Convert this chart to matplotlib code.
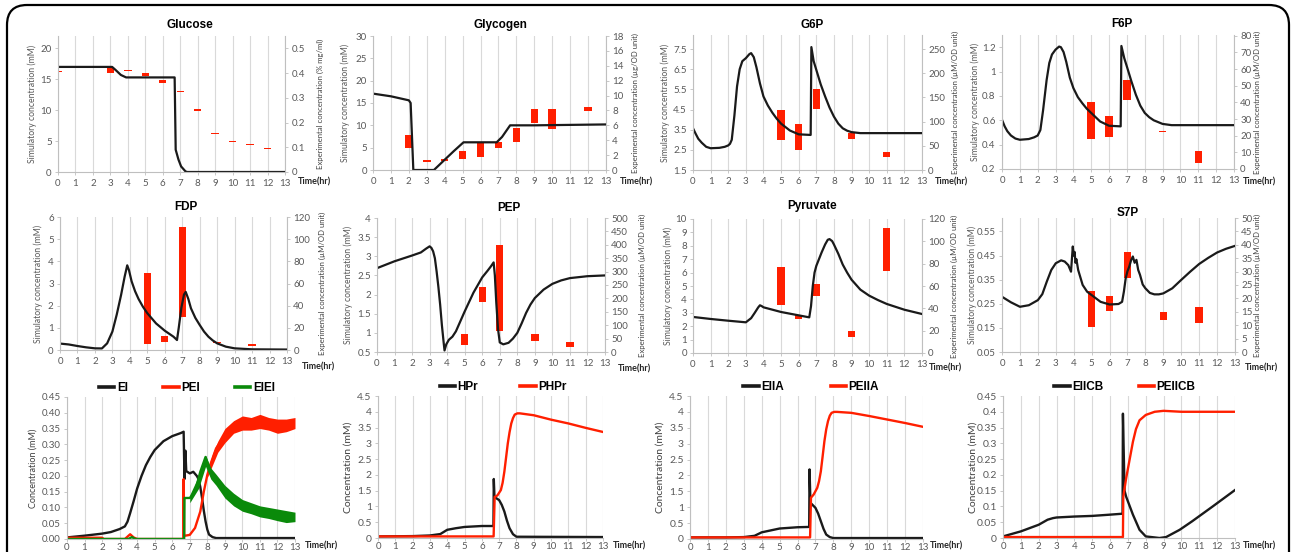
import numpy as np
import matplotlib.pyplot as plt
from matplotlib.patches import FancyBboxPatch
from matplotlib.transforms import IdentityTransform

W, H = 1295, 552
RED = "#ff1f00"
BLK = "#1a1a1a"
GRN = "#0a8a0a"
GRID = "#d9d9d9"
AXIS = "#bfbfbf"
TICK = "#595959"

hours = list(range(14))

# ---------------- simulated (line) + experimental (bar) data ----------------
glc_t = [0, 3.1, 3.3, 3.6, 3.9, 6.68, 6.74, 6.9, 7.05, 7.3, 7.4, 13]
glc_v = [17.0, 17.0, 16.5, 15.7, 15.3, 15.3, 3.6, 2.0, 0.9, 0.1, 0.0, 0.0]
glc_et = [0, 3, 4, 5, 6, 7, 8, 9, 10, 11, 12]
glc_lo = [0.404, 0.401, 0.408, 0.388, 0.361, 0.324, 0.247, 0.152, 0.121, 0.108, 0.094]
glc_hi = [0.410, 0.419, 0.414, 0.401, 0.374, 0.329, 0.253, 0.158, 0.126, 0.112, 0.098]

gly_t = [0, 1, 2, 2.1, 2.17, 2.25, 3.4, 4.0, 4.5, 5.05, 6.9, 7.2, 7.65, 9, 13]
gly_v = [17.1, 16.5, 15.6, 15.0, 8.0, 0.0, 0.0, 2.3, 4.2, 6.2, 6.2, 7.4, 10.0, 10.0, 10.2]
gly_et = [2, 3, 4, 5, 6, 7, 8, 9, 10, 12]
gly_lo = [3.0, 1.1, 1.15, 1.5, 1.7, 3.0, 3.8, 6.3, 5.5, 7.9]
gly_hi = [4.7, 1.4, 1.5, 2.55, 3.8, 3.7, 5.6, 8.15, 8.2, 8.5]

g6p_t = [0, 0.15, 0.3, 0.5, 0.75, 1, 1.5, 1.8, 2, 2.1, 2.2, 2.35, 2.5, 2.65, 2.8, 3.0, 3.2,
         3.3, 3.45, 3.6, 3.8, 4.0, 4.25, 4.5, 4.75, 5, 5.5, 6, 6.68, 6.72, 6.85, 7, 7.25,
         7.5, 7.75, 8, 8.25, 8.5, 8.75, 9, 9.5, 13]
g6p_v = [3.57, 3.3, 3.05, 2.85, 2.65, 2.58, 2.6, 2.65, 2.72, 2.8, 3.0, 4.2, 5.65, 6.5, 6.9,
         7.05, 7.25, 7.3, 7.1, 6.6, 5.8, 5.15, 4.7, 4.35, 4.05, 3.8, 3.46, 3.27, 3.24, 7.6,
         6.9, 6.47, 5.75, 5.15, 4.6, 4.15, 3.8, 3.57, 3.45, 3.38, 3.33, 3.33]
g6p_et = [5, 6, 7, 9, 11]
g6p_lo = [62.5, 42, 126, 65, 26]
g6p_hi = [125, 95, 168, 76, 37.5]

f6p_t = [0, 0.15, 0.3, 0.5, 0.75, 1, 1.5, 1.8, 2, 2.15, 2.3, 2.5, 2.65, 2.8, 3, 3.2, 3.3,
         3.45, 3.6, 3.8, 4, 4.25, 4.5, 4.75, 5, 5.5, 6, 6.65, 6.69, 6.85, 7, 7.25, 7.5,
         7.75, 8, 8.25, 8.5, 9, 9.5, 13]
f6p_v = [0.604, 0.55, 0.51, 0.475, 0.45, 0.44, 0.446, 0.46, 0.475, 0.52, 0.68, 0.93, 1.07,
         1.14, 1.18, 1.205, 1.2, 1.16, 1.08, 0.95, 0.864, 0.79, 0.74, 0.695, 0.66, 0.59,
         0.555, 0.55, 1.21, 1.11, 1.04, 0.92, 0.81, 0.72, 0.66, 0.625, 0.6, 0.57, 0.56, 0.56]
f6p_et = [5, 6, 7, 9, 11]
f6p_lo = [18.2, 19, 41.6, 22.0, 3.6]
f6p_hi = [40, 32, 53.6, 22.8, 11]

fdp_t = [0, 0.5, 1, 1.5, 2, 2.4, 2.7, 3, 3.25, 3.5, 3.7, 3.85, 3.95, 4.1, 4.3, 4.5, 4.75,
         5, 5.5, 6, 6.5, 6.7, 6.8, 6.95, 7.1, 7.2, 7.35, 7.5, 7.75, 8, 8.25, 8.5, 8.75, 9,
         9.5, 10, 11, 13]
fdp_v = [0.29, 0.25, 0.18, 0.12, 0.075, 0.07, 0.3, 0.83, 1.6, 2.49, 3.3, 3.82, 3.6, 3.1,
         2.65, 2.3, 1.95, 1.66, 1.2, 0.87, 0.6, 0.45, 1.0, 1.9, 2.5, 2.62, 2.3, 1.88, 1.45,
         1.13, 0.83, 0.6, 0.43, 0.3, 0.15, 0.075, 0.03, 0.02]
fdp_et = [5, 6, 7, 9, 11]
fdp_lo = [5.1, 7, 29.8, 6.0, 4.0]
fdp_hi = [69.3, 13, 110.7, 7.0, 5.0]

pep_t = [0, 1, 2, 2.5, 2.8, 3, 3.1, 3.2, 3.3, 3.4, 3.5, 3.6, 3.7, 3.8, 3.85, 3.95, 4.1,
         4.3, 4.5, 4.75, 5, 5.5, 6, 6.3, 6.5, 6.65, 6.72, 6.8, 6.9, 7, 7.2, 7.5, 7.75, 8,
         8.25, 8.5, 8.75, 9, 9.5, 10, 10.5, 11, 12, 13]
pep_v = [2.69, 2.87, 3.02, 3.1, 3.2, 3.26, 3.22, 3.13, 2.95, 2.6, 2.2, 1.74, 1.2, 0.75,
         0.54, 0.7, 0.82, 0.9, 1.04, 1.3, 1.56, 2.05, 2.45, 2.62, 2.74, 2.84, 2.5, 1.8,
         1.1, 0.75, 0.7, 0.74, 0.85, 1.0, 1.25, 1.52, 1.74, 1.91, 2.13, 2.28, 2.37, 2.43,
         2.48, 2.5]
pep_et = [5, 6, 7, 9, 11]
pep_lo = [27, 187, 77, 42, 19]
pep_hi = [67, 241, 400, 68, 37]

pyr_t = [0, 1, 2, 3, 3.3, 3.5, 3.7, 3.8, 3.9, 4, 5, 6, 6.6, 6.7, 6.8, 6.9, 7, 7.15, 7.3,
         7.5, 7.65, 7.75, 7.9, 8, 8.25, 8.5, 8.75, 9, 9.5, 10, 10.5, 11, 12, 13]
pyr_v = [2.69, 2.54, 2.41, 2.29, 2.6, 2.99, 3.4, 3.56, 3.5, 3.41, 3.06, 2.81, 2.66, 3.5,
         5.0, 6.0, 6.5, 7.0, 7.5, 8.1, 8.45, 8.5, 8.35, 8.1, 7.4, 6.6, 6.0, 5.47, 4.73,
         4.28, 3.95, 3.66, 3.23, 2.91]
pyr_et = [5, 6, 7, 9, 11]
pyr_lo = [42.7, 30.7, 50.7, 14, 73.7]
pyr_hi = [76.7, 34.3, 61.8, 19.4, 112]

s7p_t = [0, 0.5, 1, 1.5, 2, 2.25, 2.5, 2.75, 3, 3.3, 3.5, 3.7, 3.85, 3.95, 4.0, 4.05, 4.1,
         4.15, 4.25, 4.5, 4.75, 5, 5.5, 6, 6.5, 6.7, 6.8, 6.9, 7.0, 7.1, 7.2, 7.3, 7.4,
         7.5, 7.6, 7.7, 7.85, 8, 8.25, 8.5, 8.75, 9, 9.5, 10, 10.5, 11, 11.5, 12, 12.5, 13]
s7p_v = [0.279, 0.256, 0.2375, 0.244, 0.265, 0.29, 0.342, 0.39, 0.418, 0.43, 0.425, 0.41,
         0.383, 0.4875, 0.45, 0.465, 0.42, 0.435, 0.39, 0.328, 0.3, 0.286, 0.258, 0.247,
         0.249, 0.258, 0.3, 0.355, 0.385, 0.404, 0.43, 0.446, 0.42, 0.432, 0.39, 0.37,
         0.33, 0.314, 0.295, 0.289, 0.289, 0.293, 0.314, 0.349, 0.383, 0.415, 0.44, 0.4625,
         0.478, 0.49]
s7p_et = [5, 6, 7, 9, 11]
s7p_lo = [9.4, 15.25, 27.75, 12.1, 11]
s7p_hi = [22.75, 20.9, 37.5, 15, 16.9]

# ---------------- PTS protein species ----------------
ei_t = [0, 1, 2, 2.5, 3, 3.3, 3.45, 3.6, 3.8, 4, 4.25, 4.5, 4.75, 5, 5.5, 6, 6.5, 6.65,
        6.7, 6.75, 6.8, 7, 7.2, 7.4, 7.5, 7.6, 7.7, 7.8, 7.9, 8, 8.1, 8.3, 8.5, 13]
ei_v = [0.005, 0.0105, 0.017, 0.022, 0.0315, 0.04, 0.055, 0.082, 0.12, 0.16, 0.2, 0.234,
        0.26, 0.282, 0.31, 0.326, 0.336, 0.34, 0.19, 0.28, 0.215, 0.208, 0.213, 0.2, 0.19,
        0.165, 0.13, 0.09, 0.056, 0.03, 0.014, 0.006, 0.003, 0.003]
pei_t = [0, 2, 2.1, 3.3, 3.6, 3.8, 4, 6.63, 6.65, 6.68, 7, 7.3, 7.6, 7.8, 8, 8.2, 8.5, 9,
         9.5, 10, 11, 12, 13]
pei_v = [0.004, 0.004, 0.0, 0.0, 0.015, 0.005, 0.0, 0.0, 0.19, 0.01, 0.013, 0.035, 0.087,
         0.15, 0.203, 0.24, 0.287, 0.33, 0.355, 0.365, 0.37, 0.36, 0.365]
pei_bt = [8.0, 8.3, 8.6, 9, 9.5, 10, 10.5, 11, 11.5, 12, 12.5, 13]
pei_lo = [0.195, 0.235, 0.275, 0.305, 0.335, 0.345, 0.345, 0.35, 0.345, 0.335, 0.34, 0.35]
pei_hi = [0.215, 0.27, 0.31, 0.35, 0.375, 0.39, 0.385, 0.395, 0.385, 0.38, 0.38, 0.385]
eiei_t = [0, 3.5, 3.7, 3.9, 6.68, 6.7, 7, 7.3, 7.6, 7.9, 8.2, 8.5, 9, 9.5, 10, 11, 12, 13]
eiei_v = [0, 0, 0.006, 0, 0, 0.13, 0.13, 0.15, 0.213, 0.26, 0.21, 0.19, 0.15, 0.124, 0.108,
          0.085, 0.073, 0.068]
eiei_bt = [7, 7.5, 7.9, 8.2, 8.5, 9, 9.5, 10, 10.5, 11, 11.5, 12, 12.5, 13]
eiei_lo = [0.115, 0.16, 0.23, 0.19, 0.17, 0.13, 0.105, 0.088, 0.08, 0.07, 0.065, 0.058, 0.052, 0.055]
eiei_hi = [0.14, 0.2, 0.265, 0.225, 0.205, 0.17, 0.145, 0.125, 0.115, 0.105, 0.1, 0.095, 0.09, 0.085]

hpr_t = [0, 2, 3, 3.6, 4, 4.5, 5, 6, 6.67, 6.69, 6.73, 7, 7.15, 7.3, 7.45, 7.6, 7.8, 8, 13]
hpr_v = [0.05, 0.06, 0.08, 0.125, 0.26, 0.31, 0.35, 0.38, 0.38, 1.87, 1.3, 1.2, 1.05, 0.84,
         0.55, 0.31, 0.12, 0.04, 0.03]
phpr_t = [0, 6.68, 6.74, 6.9, 7.1, 7.2, 7.3, 7.4, 7.5, 7.6, 7.7, 7.8, 7.9, 8.05, 8.2, 9, 10,
          11, 12, 13]
phpr_v = [0.05, 0.05, 1.3, 1.35, 1.52, 1.75, 2.1, 2.55, 3.0, 3.35, 3.63, 3.8, 3.91, 3.95,
          3.95, 3.89, 3.75, 3.63, 3.49, 3.36]

eiia_t = [0, 2, 3, 3.6, 4, 5, 6, 6.65, 6.67, 6.72, 7, 7.15, 7.3, 7.45, 7.6, 7.8, 8, 13]
eiia_v = [0.05, 0.05, 0.06, 0.1, 0.21, 0.33, 0.37, 0.38, 2.19, 1.14, 0.98, 0.8, 0.56, 0.32,
          0.14, 0.06, 0.03, 0.03]
peiia_t = [0, 6.7, 6.75, 6.9, 7.1, 7.2, 7.3, 7.4, 7.5, 7.6, 7.7, 7.8, 7.9, 8.05, 8.2, 9, 10,
           11, 12, 13]
peiia_v = [0.05, 0.05, 1.3, 1.4, 1.61, 1.82, 2.13, 2.6, 3.08, 3.45, 3.71, 3.88, 3.97, 4.0,
           4.0, 3.97, 3.87, 3.76, 3.65, 3.53]

eiicb_t = [0, 1, 2, 2.5, 2.8, 3, 4, 5, 6, 6.7, 6.72, 6.81, 6.9, 7.28, 7.65, 8.0, 8.77, 9.14,
           9.9, 10.6, 11.75, 13]
eiicb_v = [0.005, 0.021, 0.042, 0.058, 0.063, 0.065, 0.068, 0.07, 0.074, 0.077, 0.394, 0.15,
           0.131, 0.074, 0.026, 0.005, 0.0, 0.003, 0.026, 0.053, 0.1, 0.152]
peiicb_t = [0, 6.72, 6.74, 6.9, 7.1, 7.28, 7.45, 7.65, 8.0, 8.5, 9, 10, 13]
peiicb_v = [0.003, 0.003, 0.131, 0.189, 0.25, 0.305, 0.345, 0.373, 0.39, 0.4, 0.403, 0.4, 0.4]

# ---------------- figure ----------------
plt.rcParams["font.family"] = ["Lato", "DejaVu Sans"]
fig = plt.figure(figsize=(W / 100, H / 100), dpi=100)
fig.add_artist(FancyBboxPatch((7, -40), 1282, 587, boxstyle="round,pad=0,rounding_size=20",
                              transform=IdentityTransform(), fill=False, ec="black", lw=1.6))


def add_box(x0, y0, x1, y1):
    return fig.add_axes([x0 / W, 1 - y1 / H, (x1 - x0) / W, (y1 - y0) / H])


def ftext(x, y, s, **kw):
    fig.text(x / W, 1 - y / H, s, **kw)


def base_style(ax, ylim, yticks, ylabels, ysize=7, xpad=3):
    ax.set_xlim(0, 13)
    ax.set_ylim(*ylim)
    ax.set_xticks(hours)
    ax.set_xticklabels([str(h) for h in hours])
    ax.set_yticks(yticks)
    ax.set_yticklabels(ylabels)
    for s in ("top", "right"):
        ax.spines[s].set_visible(False)
    for s in ("left", "bottom"):
        ax.spines[s].set_color(AXIS)
        ax.spines[s].set_linewidth(0.8)
    ax.tick_params(axis="x", length=2, width=0.6, color=AXIS, labelsize=7, labelcolor=TICK,
                   pad=xpad)
    ax.tick_params(axis="y", length=2.5, width=0.6, color=AXIS, labelsize=ysize,
                   labelcolor=TICK, pad=2)


def sim_panel(box, title, txy, t, v, et, lo, hi, ylim, yticks, ylabels, rlim, rticks,
              rlabel, lx, rx, time_xy):
    ax = add_box(*box)
    ax2 = ax.twinx()
    ax.set_zorder(ax2.get_zorder() + 1)
    ax.patch.set_visible(False)
    ax2.xaxis.set_visible(True)
    ax2.tick_params(axis="x", bottom=False, top=False, labelbottom=False, labeltop=False)
    ax2.grid(axis="x", color=GRID, lw=0.8)
    ax2.set_axisbelow(True)
    ax2.bar(et, np.subtract(hi, lo), bottom=lo, width=0.42, color=RED, linewidth=0)
    ax.plot(t, v, color=BLK, lw=1.6)
    base_style(ax, ylim, yticks, ylabels)
    ax2.set_ylim(*rlim)
    ax2.set_yticks(rticks)
    ax2.set_yticklabels(["%g" % r for r in rticks])
    for s in ("top", "left", "bottom"):
        ax2.spines[s].set_visible(False)
    ax2.spines["right"].set_color(AXIS)
    ax2.spines["right"].set_linewidth(0.8)
    ax2.tick_params(axis="y", length=2.5, width=0.6, color=AXIS, labelsize=7,
                    labelcolor=TICK, pad=2)
    cy = (box[1] + box[3]) / 2
    ftext(lx, cy, "Simulatory concentration (mM)", rotation=90, ha="center", va="center",
          fontsize=6.2, color=TICK)
    ftext(rx, cy, rlabel, rotation=90, ha="center", va="center", fontsize=5.6, color="#404040")
    ftext(txy[0], txy[1], title, ha="center", va="center", fontsize=8.5, fontweight="bold",
          family="Liberation Sans", color="black")
    ftext(time_xy[0], time_xy[1], "Time(hr)", ha="left", va="center", fontsize=6.5,
          fontweight="bold", color="#262626")
    return ax


def pts_panel(box, series, ylim, yticks, ylabels, lx, ysize, lab_size, leg_cx, colsp, time_xy):
    ax = add_box(*box)
    ax.grid(axis="x", color=GRID, lw=0.8)
    ax.set_axisbelow(True)
    for t, v, c, name in series:
        ax.plot(t, v, color=c, lw=1.7, label=name)
    base_style(ax, ylim, yticks, ylabels, ysize, xpad=1)
    leg = ax.legend(loc="center", bbox_to_anchor=(leg_cx, 1 + 9 / (box[3] - box[1])),
                    ncol=len(series), frameon=False, handlelength=1.3, handletextpad=0.2,
                    columnspacing=colsp, borderaxespad=0,
                    prop={"family": "Liberation Sans", "weight": "bold", "size": 8.5})
    for h in leg.get_lines():
        h.set_linewidth(2.6)
    ftext(lx, (box[1] + box[3]) / 2, "Concentration (mM)", rotation=90, ha="center",
          va="center", fontsize=lab_size, color="#404040")
    ftext(time_xy[0], time_xy[1], "Time(hr)", ha="left", va="center", fontsize=6.5,
          fontweight="bold", color="#262626")
    return ax


um = "Experimental concentration (\u00b5M/OD unit)"

# row 1
sim_panel((58, 36, 285, 172), "Glucose", (190, 25), glc_t, glc_v, glc_et, glc_lo, glc_hi,
          (0, 22), [0, 5, 10, 15, 20], ["0", "5", "10", "15", "20"],
          (0, 0.55), [0, 0.1, 0.2, 0.3, 0.4, 0.5],
          "Experimental concentration (% mg/ml)", 32, 320, (298, 182))
sim_panel((373, 36, 606, 170), "Glycogen", (500, 25), gly_t, gly_v, gly_et, gly_lo, gly_hi,
          (0, 30), [0, 5, 10, 15, 20, 25, 30], ["0", "5", "10", "15", "20", "25", "30"],
          (0, 18), [0, 2, 4, 6, 8, 10, 12, 14, 16, 18],
          "Experimental concentration (\u00b5g/OD unit)", 345, 635, (620, 182))
sim_panel((693, 35, 922, 170), "G6P", (812, 25), g6p_t, g6p_v, g6p_et, g6p_lo, g6p_hi,
          (1.5, 8.2), [1.5, 2.5, 3.5, 4.5, 5.5, 6.5, 7.5],
          ["1.5", "2.5", "3.5", "4.5", "5.5", "6.5", "7.5"],
          (0, 279), [0, 50, 100, 150, 200, 250], um, 665, 955, (935, 182))
sim_panel((1002, 35, 1234, 169), "F6P", (1122, 24), f6p_t, f6p_v, f6p_et, f6p_lo, f6p_hi,
          (0.2, 1.3), [0.2, 0.4, 0.6, 0.8, 1.0, 1.2], ["0.2", "0.4", "0.6", "0.8", "1", "1.2"],
          (0, 80.5), [0, 10, 20, 30, 40, 50, 60, 70, 80], um, 975, 1257, (1243, 182))

# row 2
sim_panel((60, 217, 287, 350), "FDP", (186, 207), fdp_t, fdp_v, fdp_et, fdp_lo, fdp_hi,
          (0, 6), [0, 1, 2, 3, 4, 5, 6], ["0", "1", "2", "3", "4", "5", "6"],
          (0, 120), [0, 20, 40, 60, 80, 100, 120], um, 38, 322, (302, 367))
sim_panel((377, 218, 605, 352), "PEP", (509, 208), pep_t, pep_v, pep_et, pep_lo, pep_hi,
          (0.5, 4), [0.5, 1, 1.5, 2, 2.5, 3, 3.5, 4],
          ["0.5", "1", "1.5", "2", "2.5", "3", "3.5", "4"],
          (0, 500), [0, 50, 100, 150, 200, 250, 300, 350, 400, 450, 500], um, 348, 642,
          (618, 369))
sim_panel((693, 219, 922, 353), "Pyruvate", (812, 206), pyr_t, pyr_v, pyr_et, pyr_lo, pyr_hi,
          (0, 10), list(range(11)), [str(i) for i in range(11)],
          (0, 120), [0, 20, 40, 60, 80, 100, 120], um, 668, 954, (929, 368))
sim_panel((1002, 218, 1235, 352), "S7P", (1128, 213), s7p_t, s7p_v, s7p_et, s7p_lo, s7p_hi,
          (0.05, 0.6056), [0.05, 0.15, 0.25, 0.35, 0.45, 0.55],
          ["0.05", "0.15", "0.25", "0.35", "0.45", "0.55"],
          (0, 50), [0, 5, 10, 15, 20, 25, 30, 35, 40, 45, 50], um, 972, 1257, (1245, 368))

# row 3
ax_ei = pts_panel((67, 397, 295, 539),
                  [(ei_t, ei_v, BLK, "EI"), (pei_t, pei_v, RED, "PEI"),
                   (eiei_t, eiei_v, GRN, "EIEI")],
                  (0, 0.45), [0, 0.05, 0.1, 0.15, 0.2, 0.25, 0.3, 0.35, 0.4, 0.45],
                  ["0.00", "0.05", "0.10", "0.15", "0.20", "0.25", "0.30", "0.35", "0.40",
                   "0.45"],
                  33, 7, 6.5, 0.526, 3.0, (305, 546))
ax_ei.fill_between(pei_bt, pei_lo, pei_hi, color=RED, lw=0, zorder=2.1)
ax_ei.fill_between(eiei_bt, eiei_lo, eiei_hi, color=GRN, lw=0, zorder=2.2)

pts_panel((378, 396, 603, 538), [(hpr_t, hpr_v, BLK, "HPr"), (phpr_t, phpr_v, RED, "PHPr")],
          (0, 4.5), [0, 0.5, 1, 1.5, 2, 2.5, 3, 3.5, 4, 4.5],
          ["0", "0.5", "1", "1.5", "2", "2.5", "3", "3.5", "4", "4.5"],
          348, 7.5, 7.5, 0.556, 3.6, (613, 546))
pts_panel((690, 396, 923, 539), [(eiia_t, eiia_v, BLK, "EIIA"), (peiia_t, peiia_v, RED, "PEIIA")],
          (0, 4.5), [0, 0.5, 1, 1.5, 2, 2.5, 3, 3.5, 4, 4.5],
          ["0", "0.5", "1", "1.5", "2", "2.5", "3", "3.5", "4", "4.5"],
          660, 7.5, 7.5, 0.52, 4.0, (930, 546))
pts_panel((1003, 396, 1235, 538),
          [(eiicb_t, eiicb_v, BLK, "EIICB"), (peiicb_t, peiicb_v, RED, "PEIICB")],
          (0, 0.45), [0, 0.05, 0.1, 0.15, 0.2, 0.25, 0.3, 0.35, 0.4, 0.45],
          ["0", "0.05", "0.1", "0.15", "0.2", "0.25", "0.3", "0.35", "0.4", "0.45"],
          973, 7.5, 7.5, 0.526, 3.0, (1243, 546))

fig.savefig("out.png", dpi=100)
